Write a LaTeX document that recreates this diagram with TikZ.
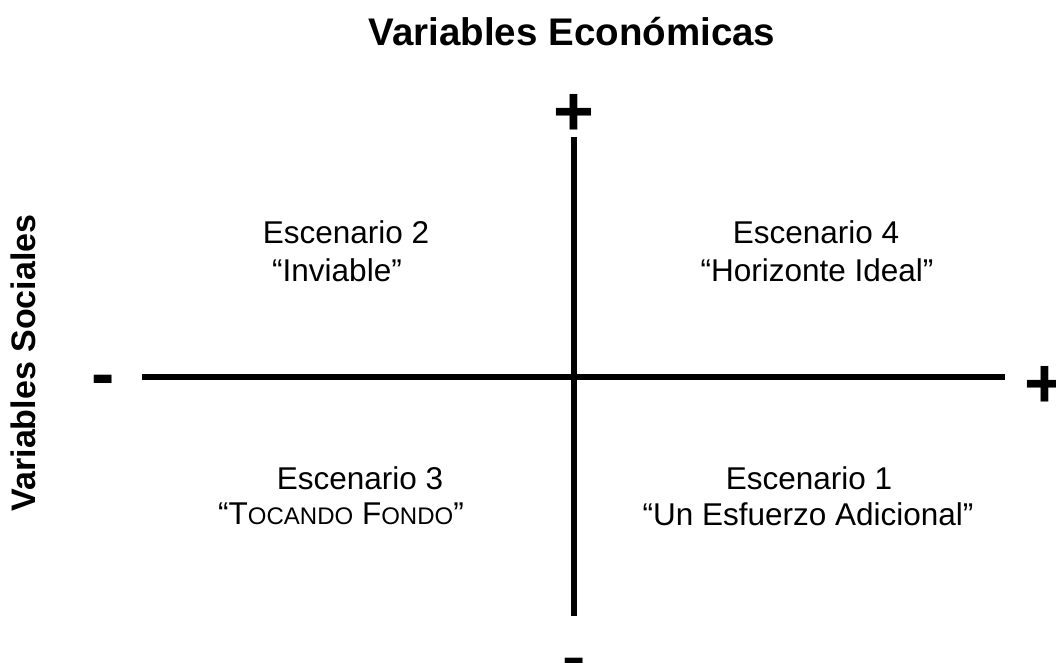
\documentclass[tikz,border=0pt]{standalone}
\usepackage{fontspec}
\setmainfont{Liberation Sans}
\tikzset{
  axisline/.style={line width=6pt, black},
  lbl/.style={anchor=base, inner sep=0pt, font=\fontsize{31.5}{34}\selectfont},
  heading/.style={anchor=base, inner sep=0pt, font=\bfseries\fontsize{38.5}{40}\selectfont},
  sign/.style={anchor=base, inner sep=0pt, font=\bfseries\fontsize{70}{72}\selectfont},
}
\newcommand{\smc}[1]{{\fontsize{24}{26}\selectfont #1}}
\begin{document}
\begin{tikzpicture}[x=1pt,y=-1pt]
\useasboundingbox (0,0) rectangle (1056,663);
% axes
\coordinate (vtop) at (574,137);
\coordinate (vbot) at (574,616);
\coordinate (hleft) at (142,377);
\coordinate (hright) at (1005,377);
\draw[axisline] (vtop) -- (vbot);
\draw[axisline] (hleft) -- (hright);
% signs
\node[sign] (ptop) at (574,136) {+};
\node[sign] (pright) at (1045,407) {+};
\node[sign] (mleft) at (103,397) {-};
\node[sign] (mbot) at (574,680) {-};
% titles
\node[heading] (econ) at (572,46) {Variables Económicas};
\node[heading, font=\bfseries\fontsize{34}{36}\selectfont, rotate=90] (soc) at (35,363) {Variables Sociales};
% scenarios
\node[lbl] (e2a) at (346,243) {Escenario 2};
\node[lbl] (e2b) at (337,281) {“Inviable”};
\node[lbl] (e4a) at (816,243) {Escenario 4};
\node[lbl] (e4b) at (817,281) {“Horizonte Ideal”};
\node[lbl] (e3a) at (360,489) {Escenario 3};
\node[lbl] (e3b) at (341,524) {“T\smc{OCANDO} F\smc{ONDO}”};
\node[lbl] (e1a) at (809,489) {Escenario 1};
\node[lbl] (e1b) at (808,525) {“Un Esfuerzo Adicional”};
\end{tikzpicture}
\end{document}
